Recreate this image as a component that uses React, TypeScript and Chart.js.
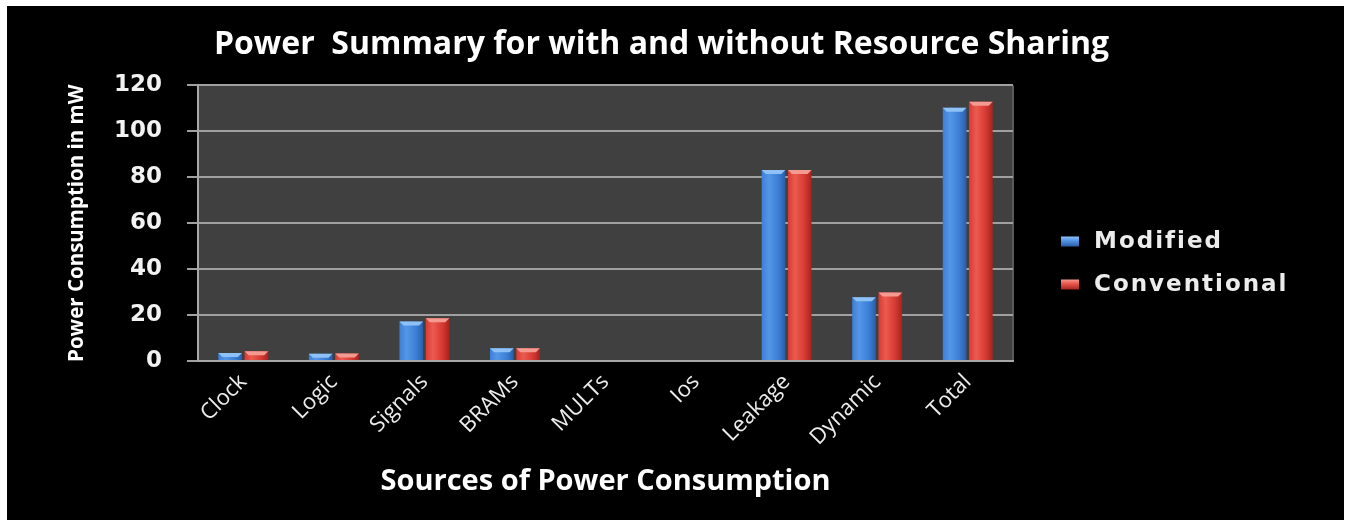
import React, { useEffect, useRef } from "react";
import { Chart, registerables, layouts } from "chart.js";

Chart.register(...registerables);

// ---- data ----
const categories = ["Clock", "Logic", "Signals", "BRAMs", "MULTs", "Ios", "Leakage", "Dynamic", "Total"];
const seriesNames = ["Modified", "Conventional"];
const modifiedValues = [3.5, 3.2, 17.2, 5.6, 0, 0, 83.2, 27.8, 110.3];
const conventionalValues = [4.2, 3.3, 18.6, 5.6, 0, 0, 83.2, 29.8, 112.9];
const yTickValues = [0, 20, 40, 60, 80, 100, 120];

const titleText = "Power  Summary for with and without Resource Sharing";
const yTitleText = "Power Consumption in mW";
const xTitleText = "Sources of Power Consumption";

// ---- styles ----
const CAT_PCT = 0.58;
const BAR_PCT = 0.9;
const LEGEND_WIDTH = 303;
const palette = [
  { light: "#5596e6", base: "#3b7fd6", dark: "#2a5ea8", cap: "#8ec2f6" },
  { light: "#ec5a50", base: "#d63a33", dark: "#a6241e", cap: "#f49a90" },
];

function barFill(si: number) {
  const c = palette[si];
  return (ctx: any) => {
    const chart = ctx.chart;
    const x = chart.scales && chart.scales.x;
    if (!x || ctx.type !== "data" || !isFinite(x.left)) return c.base;
    const n = chart.data.labels.length;
    const cat = (x.right - x.left) / n;
    const slot = (cat * CAT_PCT) / 2;
    const bw = slot * BAR_PCT;
    const center = x.getPixelForValue(ctx.dataIndex) + (ctx.datasetIndex - 0.5) * slot;
    const g = chart.ctx.createLinearGradient(center - bw / 2, 0, center + bw / 2, 0);
    g.addColorStop(0, c.base);
    g.addColorStop(0.3, c.light);
    g.addColorStop(0.7, c.base);
    g.addColorStop(1, c.dark);
    return g;
  };
}

const plotBackground = {
  id: "plotBackground",
  beforeDraw(chart: any) {
    const { ctx, chartArea } = chart;
    ctx.save();
    ctx.fillStyle = "#404040";
    ctx.fillRect(chartArea.left, chartArea.top, chartArea.right - chartArea.left, chartArea.bottom - chartArea.top);
    ctx.strokeStyle = "#5a5a5a";
    ctx.lineWidth = 2;
    ctx.beginPath();
    ctx.moveTo(chartArea.right, chartArea.top);
    ctx.lineTo(chartArea.right, chartArea.bottom);
    ctx.stroke();
    ctx.restore();
  },
};

const barCaps = {
  id: "barCaps",
  afterDatasetsDraw(chart: any) {
    const { ctx } = chart;
    chart.data.datasets.forEach((ds: any, di: number) => {
      const meta = chart.getDatasetMeta(di);
      meta.data.forEach((el: any, i: number) => {
        if (!ds.data[i]) return;
        const { x, y, width } = el.getProps(["x", "y", "width"], true);
        ctx.save();
        ctx.fillStyle = palette[di].cap;
        ctx.beginPath();
        ctx.moveTo(x - width / 2, y);
        ctx.lineTo(x + width / 2, y);
        ctx.lineTo(x + width / 2 - 4, y + 4);
        ctx.lineTo(x - width / 2 + 4, y + 4);
        ctx.closePath();
        ctx.fill();
        ctx.restore();
      });
    });
  },
};

const sideLegend = {
  id: "sideLegend",
  beforeInit(chart: any) {
    const box: any = {
      position: "right",
      weight: 1000,
      fullSize: false,
      options: {},
      top: 0,
      left: 0,
      right: 0,
      bottom: 0,
      width: 0,
      height: 0,
      isHorizontal() {
        return false;
      },
      update(maxWidth: number, maxHeight: number) {
        this.width = Math.min(LEGEND_WIDTH, maxWidth);
        this.height = maxHeight;
      },
      draw() {
        const ctx = chart.ctx;
        const rowGap = 43;
        const datasets = chart.data.datasets;
        const startY = chart.height / 2 - ((datasets.length - 1) * rowGap) / 2;
        ctx.save();
        ctx.font = "bold 23px 'DejaVu Sans'";
        (ctx as any).letterSpacing = "2px";
        ctx.textBaseline = "middle";
        ctx.textAlign = "left";
        datasets.forEach((ds: any, i: number) => {
          const cy = startY + i * rowGap;
          const sx = this.left + 48;
          const c = palette[i];
          const g = ctx.createLinearGradient(0, cy - 5, 0, cy + 5);
          g.addColorStop(0, c.cap);
          g.addColorStop(0.4, c.light);
          g.addColorStop(1, c.dark);
          ctx.fillStyle = g;
          ctx.fillRect(sx, cy - 5, 18, 10);
          ctx.fillStyle = "#ececec";
          ctx.fillText(ds.label, this.left + 81, cy + 1);
        });
        ctx.restore();
      },
    };
    layouts.addBox(chart, box);
  },
};

export default function App() {
  const ref = useRef<HTMLCanvasElement>(null);

  useEffect(() => {
    const canvas = ref.current;
    if (!canvas) return;
    const chart = new Chart(canvas, {
      type: "bar",
      data: {
        labels: categories,
        datasets: [
          { label: seriesNames[0], data: modifiedValues, backgroundColor: barFill(0) },
          { label: seriesNames[1], data: conventionalValues, backgroundColor: barFill(1) },
        ],
      },
      options: {
        animation: false,
        responsive: false,
        events: [],
        layout: { padding: { left: 0, right: 28, top: 0, bottom: 0 } },
        datasets: { bar: { categoryPercentage: CAT_PCT, barPercentage: BAR_PCT } },
        plugins: {
          legend: { display: false },
          tooltip: { enabled: false },
          title: {
            display: true,
            text: titleText,
            color: "#ffffff",
            font: { family: "'Open Sans'", size: 32, weight: "bold", lineHeight: 1.2 },
            padding: { top: 20, bottom: 21 },
          },
        },
        scales: {
          x: {
            grid: { display: false, drawTicks: false },
            border: { display: true, color: "#a8a8a8", width: 2 },
            ticks: {
              color: "#ececec",
              font: { family: "'Open Sans'", size: 22 },
              minRotation: 45,
              maxRotation: 45,
              autoSkip: false,
              padding: 8,
            },
            title: {
              display: true,
              text: xTitleText,
              color: "#ffffff",
              font: { family: "'Open Sans'", size: 29, weight: "bold", lineHeight: 1.2 },
              padding: { top: 0, bottom: 21 },
            },
            afterFit(scale: any) {
              scale.height = 159;
            },
          },
          y: {
            min: yTickValues[0],
            max: yTickValues[yTickValues.length - 1],
            afterBuildTicks(scale: any) {
              scale.ticks = yTickValues.map((v) => ({ value: v }));
            },
            grid: { color: "#a0a0a0", lineWidth: 2, tickLength: 11, drawTicks: true },
            border: { display: true, color: "#a8a8a8", width: 2 },
            ticks: {
              color: "#f2f2f2",
              font: { family: "'DejaVu Sans'", size: 23, weight: "bold" },
              padding: 25,
            },
            title: {
              display: true,
              text: yTitleText,
              color: "#ffffff",
              font: { family: "'Open Sans'", size: 20.5, weight: "bold", lineHeight: 1.2 },
              padding: { top: 58, bottom: 0 },
            },
            afterFit(scale: any) {
              scale.width = 191;
            },
          },
        },
      },
      plugins: [plotBackground, barCaps, sideLegend],
    } as any);
    return () => chart.destroy();
  }, []);

  return (
    <div style={{ position: "absolute", left: 7, top: 6, width: 1337, height: 514, background: "#000" }}>
      <canvas ref={ref} width={1337} height={514} style={{ display: "block" }} />
    </div>
  );
}
